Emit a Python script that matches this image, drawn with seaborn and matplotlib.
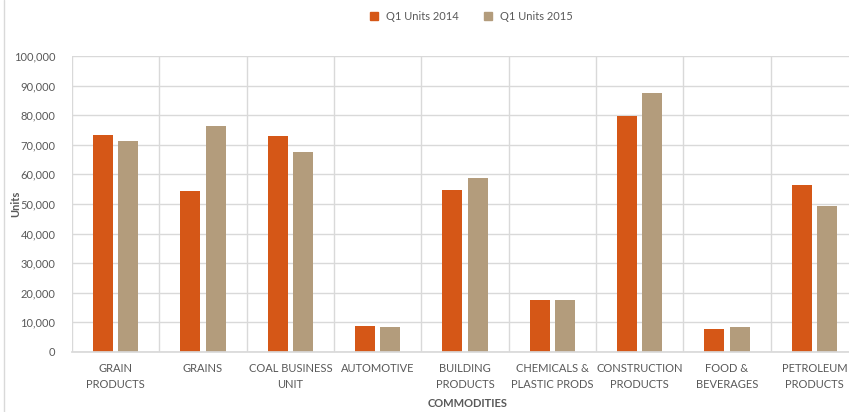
import numpy as np
import pandas as pd
import matplotlib
matplotlib.use('Agg')
import matplotlib.pyplot as plt
from matplotlib.ticker import FuncFormatter, FixedLocator
from matplotlib.lines import Line2D
import seaborn as sns

# Datos
categorias = ['GRAIN\nPRODUCTS', 'GRAINS', 'COAL BUSINESS\nUNIT', 'AUTOMOTIVE',
              'BUILDING\nPRODUCTS', 'CHEMICALS &\nPLASTIC PRODS', 'CONSTRUCTION\nPRODUCTS',
              'FOOD &\nBEVERAGES', 'PETROLEUM\nPRODUCTS']
units_2014 = [73300, 54500, 73000, 8800, 54700, 17600, 79800, 7700, 56300]
units_2015 = [71200, 76500, 67400, 8300, 58800, 17500, 87500, 8300, 49300]
series = ['Q1 Units 2014', 'Q1 Units 2015']
colores = ['#D55717', '#B39C7C']

df = pd.DataFrame({
    'cat': categorias * 2,
    'units': units_2014 + units_2015,
    'serie': [series[0]] * len(categorias) + [series[1]] * len(categorias),
})

sns.set_theme(style='white')
plt.rcParams['font.family'] = ['Lato', 'DejaVu Sans']

fig = plt.figure(figsize=(8.49, 4.12), dpi=100)
ax = fig.add_axes([72 / 849, 60 / 412, 786 / 849, 296 / 412])

sns.barplot(data=df, x='cat', y='units', hue='serie', palette=colores, saturation=1,
            width=0.58, gap=0.2, ax=ax, legend=False, edgecolor='none')

gris = '#D9D9D9'
texto = '#595959'
ax.set_ylim(0, 100000)
ax.set_xlim(-0.5, len(categorias) - 0.5)
ax.set_yticks(np.arange(0, 100001, 10000))
ax.yaxis.set_major_formatter(FuncFormatter(lambda v, p: f'{int(v):,}'))
ax.xaxis.set_minor_locator(FixedLocator(np.arange(-0.5, len(categorias), 1)))
ax.grid(True, axis='y', which='major', color=gris, lw=1)
ax.grid(True, axis='x', which='minor', color=gris, lw=1)
ax.set_axisbelow(True)
for s in ['top', 'right', 'left']:
    ax.spines[s].set_visible(False)
ax.spines['bottom'].set_color(gris)
ax.tick_params(axis='both', which='both', length=0, colors=texto, labelsize=8)
ax.tick_params(axis='x', pad=8)
ax.tick_params(axis='y', pad=12)
for t in ax.get_xticklabels():
    t.set_va('top')
    t.set_linespacing(1.5)

ax.set_xlabel('COMMODITIES', fontsize=8, fontweight='bold', color=texto)
ax.set_ylabel('Units', fontsize=8, fontweight='bold', color=texto)
ax.xaxis.set_label_coords((468 - 72) / 786, -46 / 296)
ax.yaxis.set_label_coords(-51 / 786, 0.5)

handles = [Line2D([], [], marker='s', ls='none', color=c, markersize=6) for c in colores]
fig.legend(handles, series, loc='center', bbox_to_anchor=(468 / 849, 1 - 16 / 412),
           ncol=2, frameon=False, fontsize=8, labelcolor=texto,
           handletextpad=0.1, columnspacing=1.6)

# borde del area del grafico
fig.add_artist(Line2D([4 / 849, 4 / 849], [0, 1], color=gris, lw=1, transform=fig.transFigure))

fig.savefig('out.png', dpi=100)
